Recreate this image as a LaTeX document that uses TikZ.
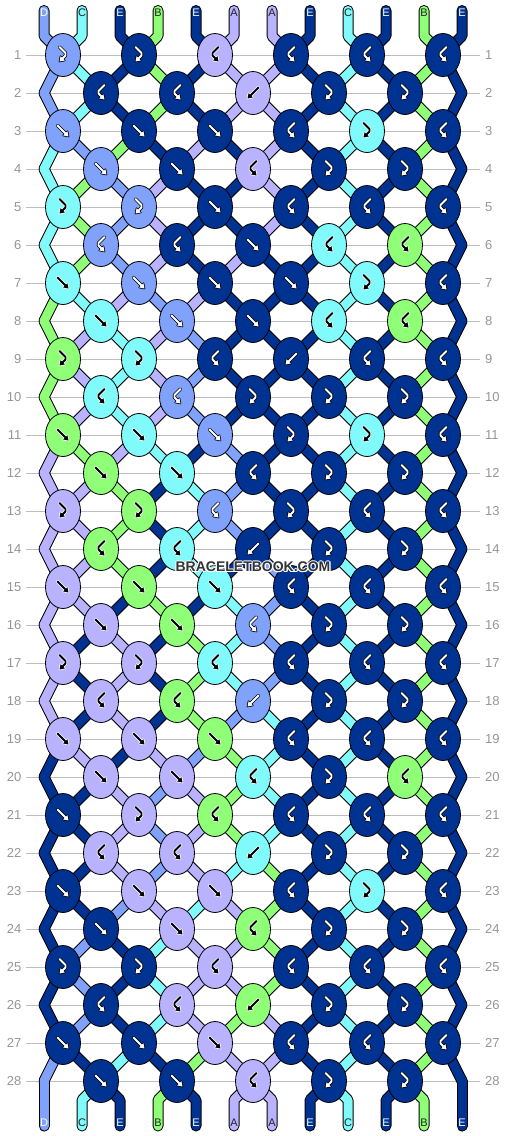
\documentclass[tikz,border=0pt]{standalone}
\usepackage{fontspec}
\setmainfont{Liberation Sans}
\usetikzlibrary{shapes.geometric}
\pgfdeclarelayer{grid}
\pgfdeclarelayer{strands}
\pgfdeclarelayer{front}
\pgfsetlayers{grid,strands,main,front}
\definecolor{cA}{RGB}{184,178,255}
\definecolor{cB}{RGB}{144,255,120}
\definecolor{cC}{RGB}{128,250,250}
\definecolor{cD}{RGB}{128,162,250}
\definecolor{cE}{RGB}{0,50,145}
\definecolor{gridgray}{RGB}{190,190,190}
\definecolor{numgray}{RGB}{150,150,150}
\definecolor{lbldark}{RGB}{34,34,34}
\definecolor{wmgray}{RGB}{51,51,51}
\tikzset{
  knotnode/.style={ellipse, draw=black, line width=0.8pt, minimum width=35pt, minimum height=43pt, inner sep=0pt, fill=#1},
  strandout/.style={line width=11pt, draw=black, line cap=round, line join=round},
  strandin/.style={line width=9pt, draw=#1, line cap=round, line join=round},
  gridline/.style={draw=gridgray, line width=1pt},
  rownum/.style={font=\fontsize{13}{13}\selectfont, text=numgray, inner sep=0pt},
  strlbl/.style={font=\fontsize{11}{11}\selectfont, inner sep=0pt},
  wmark/.style={font=\bfseries\fontsize{14}{14}\selectfont, text=wmgray, inner sep=0pt}
}
\newcommand\haloed[1]{\leavevmode
  \rlap{\textcolor{white}{\kern1.1pt #1}}%
  \rlap{\textcolor{white}{\kern-1.1pt #1}}%
  \rlap{\textcolor{white}{\raisebox{1.1pt}{#1}}}%
  \rlap{\textcolor{white}{\raisebox{-1.1pt}{#1}}}%
  \rlap{\textcolor{white}{\kern0.8pt\raisebox{0.8pt}{#1}}}%
  \rlap{\textcolor{white}{\kern-0.8pt\raisebox{0.8pt}{#1}}}%
  \rlap{\textcolor{white}{\kern0.8pt\raisebox{-0.8pt}{#1}}}%
  \rlap{\textcolor{white}{\kern-0.8pt\raisebox{-0.8pt}{#1}}}%
  #1}
\newcommand\glyphpaths[4]{%
  \draw[line width=3.4pt,color=#4,line cap=round,line join=round] #1;
  \filldraw[draw=#4,fill=#4,line width=1.6pt,line join=round] #2;
  \draw[line width=1.8pt,color=#3,line cap=round,line join=round] #1;
  \fill[fill=#3] #2;
}
\newcommand\glyf[2]{\glyphpaths{(-5.5,-5.5)--(2.5,2.5)}{(5.5,5.5) -- ++(-1.06,-5.3) -- ++(-4.24,4.24) -- cycle}{#1}{#2}}
\newcommand\glyb[2]{\glyphpaths{(5.5,-5.5)--(-2.5,2.5)}{(-5.5,5.5) -- ++(1.06,-5.3) -- ++(4.24,4.24) -- cycle}{#1}{#2}}
\newcommand\glyfb[2]{\glyphpaths{(-3.5,-8)--(2.5,-2)--(2.5,0.5)--(-1,4)}{(-3.5,6.5) -- ++(1.06,-5.3) -- ++(4.24,4.24) -- cycle}{#1}{#2}}
\newcommand\glybf[2]{\glyphpaths{(3.5,-8)--(-2.5,-2)--(-2.5,0.5)--(1,4)}{(3.5,6.5) -- ++(-1.06,-5.3) -- ++(-4.24,4.24) -- cycle}{#1}{#2}}
\newcommand\setnodename[3]{%
  \ifodd#1\relax
    \pgfmathtruncatemacro\tmpk{(#2+1)/2}%
    \edef#3{k-#1-\tmpk}%
  \else
    \ifnum#2=1\relax \edef#3{eL-#1}%
    \else\ifnum#2=12\relax \edef#3{eR-#1}%
    \else
      \pgfmathtruncatemacro\tmpk{#2/2}%
      \edef#3{k-#1-\tmpk}%
    \fi\fi
  \fi}
\def\knotlist{1/{D/fb,E/fb,A/bf,E/bf,E/bf,E/bf},
2/{E/bf,E/bf,A/b,E/fb,E/fb},
3/{D/f,E/f,E/f,E/bf,C/fb,E/bf},
4/{D/f,E/f,A/bf,E/fb,E/fb},
5/{C/fb,D/fb,E/f,E/bf,E/bf,E/bf},
6/{D/bf,E/bf,E/f,C/bf,B/bf},
7/{C/f,D/f,E/f,E/f,C/fb,E/bf},
8/{C/f,D/f,E/f,C/bf,B/bf},
9/{B/fb,C/fb,E/bf,E/b,E/bf,E/bf},
10/{C/bf,D/bf,E/fb,E/fb,E/fb},
11/{B/f,C/f,D/f,E/fb,C/fb,E/bf},
12/{B/f,C/f,E/bf,E/fb,E/fb},
13/{A/fb,B/fb,D/bf,E/fb,E/bf,E/bf},
14/{B/bf,C/bf,E/b,E/fb,E/fb},
15/{A/f,B/f,C/f,E/bf,E/bf,E/bf},
16/{A/f,B/f,D/bf,E/fb,E/fb},
17/{A/fb,A/fb,C/bf,E/bf,E/bf,E/bf},
18/{A/bf,B/bf,D/b,E/fb,E/fb},
19/{A/f,A/f,B/f,E/bf,E/bf,E/bf},
20/{A/f,A/f,C/bf,E/fb,B/bf},
21/{E/f,A/fb,B/bf,E/bf,E/bf,E/bf},
22/{A/bf,A/bf,C/b,E/fb,E/fb},
23/{E/f,A/f,A/f,E/bf,C/fb,E/bf},
24/{E/f,A/f,B/bf,E/fb,E/fb},
25/{E/fb,E/fb,A/bf,E/bf,E/bf,E/bf},
26/{E/bf,A/bf,B/b,E/fb,E/fb},
27/{E/f,E/f,A/f,E/bf,E/bf,E/bf},
28/{E/f,E/f,A/bf,E/fb,E/fb}}
\def\statelist{0/{D,C,E,B,E,A,A,E,C,E,B,E},
1/{D,C,E,B,E,A,A,E,C,E,B,E},
2/{D,C,E,B,E,A,A,E,C,E,B,E},
3/{C,D,B,E,A,E,A,E,C,E,B,E},
4/{C,B,D,A,E,E,A,E,C,E,B,E},
5/{C,B,D,A,E,E,A,E,C,E,B,E},
6/{C,B,D,A,E,A,E,E,C,E,B,E},
7/{B,C,A,D,A,E,E,E,C,E,B,E},
8/{B,A,C,A,D,E,E,E,C,E,B,E},
9/{B,A,C,A,D,E,E,E,C,E,B,E},
10/{B,A,C,A,D,E,E,E,C,E,B,E},
11/{A,B,A,C,E,D,E,E,C,E,B,E},
12/{A,A,B,E,C,D,E,E,C,E,B,E},
13/{A,A,B,E,C,D,E,E,C,E,B,E},
14/{A,A,B,E,C,E,D,E,C,E,B,E},
15/{A,A,E,B,E,C,D,E,C,E,B,E},
16/{A,E,A,E,B,C,D,E,C,E,B,E},
17/{A,E,A,E,B,C,D,E,C,E,B,E},
18/{A,E,A,E,B,D,C,E,C,E,B,E},
19/{E,A,E,A,D,B,C,E,C,E,B,E},
20/{E,E,A,D,A,B,C,E,C,E,B,E},
21/{E,E,A,D,A,B,C,E,C,E,B,E},
22/{E,E,A,D,A,C,B,E,C,E,B,E},
23/{E,E,D,A,C,A,B,E,C,E,B,E},
24/{E,D,E,C,A,A,B,E,C,E,B,E},
25/{E,D,E,C,A,A,B,E,C,E,B,E},
26/{E,D,E,C,A,B,A,E,C,E,B,E},
27/{D,E,C,E,B,A,A,E,C,E,B,E},
28/{D,C,E,B,E,A,A,E,C,E,B,E}}
\newcommand\strandpass[1]{%
  \foreach \rw/\lst in \statelist {%
    \pgfmathtruncatemacro\rnx{\rw+1}%
    \foreach \sc [count=\ps] in \lst {%
      \ifnum\rw=0\relax
        \setnodename{\rnx}{\ps}{\segB}%
        \draw[#1] (ta-\ps.center) -- (tb-\ps.center) -- (\segB.center);%
      \else\ifnum\rw=28\relax
        \setnodename{\rw}{\ps}{\segA}%
        \draw[#1] (\segA.center) -- (ba-\ps.center) -- (bb-\ps.center);%
      \else
        \setnodename{\rw}{\ps}{\segA}%
        \setnodename{\rnx}{\ps}{\segB}%
        \draw[#1] (\segA.center) -- (\segB.center);%
      \fi\fi
    }%
  }%
}
\begin{document}
\begin{tikzpicture}[x=1pt,y=-1pt]
\useasboundingbox (0,0) rectangle (506,1136);
\begin{pgfonlayer}{grid}
  \fill[white] (0,0) rectangle (506,1136);
  \foreach \rw in {1,...,28} {
    \pgfmathsetmacro\yy{55+38*(\rw-1)}
    \draw[gridline] (26,\yy) -- (480,\yy);
    \node[rownum, anchor=east] (ln-\rw) at (21.5,\yy) {\rw};
    \node[rownum, anchor=west] (rn-\rw) at (485,\yy) {\rw};
  }
\end{pgfonlayer}
% coordinates
\foreach \rw in {2,4,...,28} {
  \pgfmathsetmacro\yy{55+38*(\rw-1)}
  \coordinate (eL-\rw) at (44,\yy);
  \coordinate (eR-\rw) at (462,\yy);
}
\foreach \ps in {1,...,12} {
  \pgfmathsetmacro\xx{44+38*(\ps-1)}
  \coordinate (ta-\ps) at (\xx,10.5);
  \coordinate (tb-\ps) at (\xx,36);
  \coordinate (ba-\ps) at (\xx,1100);
  \coordinate (bb-\ps) at (\xx,1126);
}
% knots
\foreach \rw/\lst in \knotlist {
  \pgfmathsetmacro\yy{55+38*(\rw-1)}
  \ifodd\rw\relax \def\xs{63}\else\def\xs{101}\fi
  \foreach \kc/\ty [count=\kn] in \lst {
    \pgfmathsetmacro\xx{\xs+76*(\kn-1)}
    \node[knotnode=c\kc] (k-\rw-\kn) at (\xx,\yy) {};
    \def\fg{black}\def\ol{white}%
    \if\kc E\def\fg{white}\def\ol{black}\fi
    \if\kc D\def\fg{white}\def\ol{black}\fi
    \begin{scope}[shift={(k-\rw-\kn.center)}]
      \csname gly\ty\endcsname{\fg}{\ol}
    \end{scope}
  }
}
% strands
\begin{pgfonlayer}{strands}
  \strandpass{strandout}
  \strandpass{strandin=c\sc}
\end{pgfonlayer}
% labels
\begin{pgfonlayer}{front}
  \foreach \ltr [count=\ps] in {D,C,E,B,E,A,A,E,C,E,B,E} {
    \pgfmathsetmacro\xx{44+38*(\ps-1)}
    \def\lc{lbldark}%
    \if\ltr E\def\lc{white}\fi
    \if\ltr D\def\lc{white}\fi
    \node[strlbl, text=\lc] (tl-\ps) at (\xx,13) {\ltr};
    \node[strlbl, text=\lc] (bl-\ps) at (\xx,1123) {\ltr};
  }
  \node[wmark] (wm) at (253,567) {\haloed{BRACELETBOOK.COM}};
\end{pgfonlayer}
\end{tikzpicture}
\end{document}
